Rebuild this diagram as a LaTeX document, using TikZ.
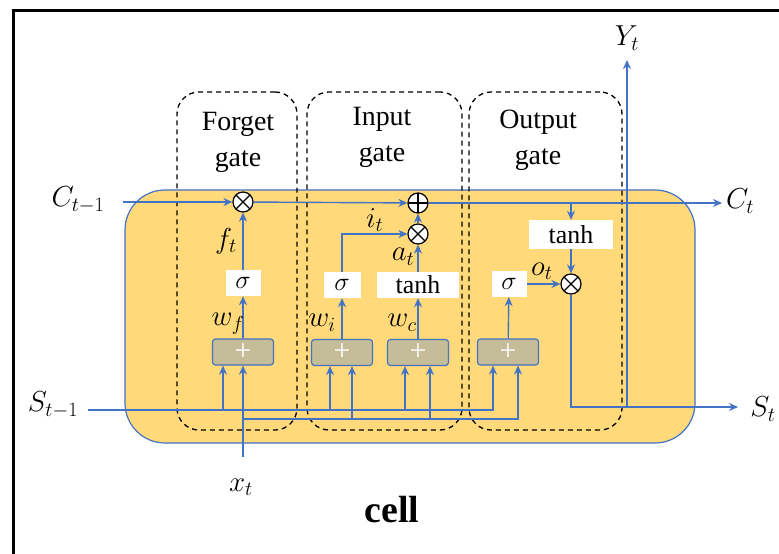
\RequirePackage{fix-cm}
\documentclass[tikz,border=0pt]{standalone}
\usepackage{fontspec}
\setmainfont{Liberation Serif}
\usetikzlibrary{arrows.meta}
\definecolor{lstmyellow}{RGB}{255, 217, 122}
\definecolor{lstmblue}{RGB}{68, 114, 196}
\definecolor{lstmolive}{RGB}{196, 189, 151}

\begin{document}
\begin{tikzpicture}[
    x = 1bp, y = -1bp,
    every node/.style = {inner sep=0pt, font=\fontsize{26}{30}\selectfont},
    cellbox/.style = {draw=lstmblue, fill=lstmyellow, rounded corners=40bp,
                      line width=1.2bp, minimum width=570bp, minimum height=253bp},
    gatebox/.style = {draw=black, dash pattern=on 5bp off 4bp, rounded corners=22bp,
                      line width=1.3bp, minimum height=338bp},
    gatetitle/.style = {align=center, font=\fontsize{28}{36}\selectfont},
    actbox/.style = {fill=white, minimum height=26bp},
    sumbox/.style = {draw=lstmblue, fill=lstmolive, rounded corners=3bp, line width=1.2bp,
                     minimum width=61bp, minimum height=26bp, text=white,
                     font=\fontsize{30}{30}\selectfont},
    mul/.style = {circle, draw, fill=white, line width=1.2bp, minimum size=20bp,
                  path picture={\draw[line width=1.2bp]
                    (path picture bounding box.south west) -- (path picture bounding box.north east)
                    (path picture bounding box.north west) -- (path picture bounding box.south east);}},
    add/.style = {circle, draw, fill=white, line width=1.2bp, minimum size=20bp,
                  path picture={\draw[line width=1.2bp]
                    (path picture bounding box.north) -- (path picture bounding box.south)
                    (path picture bounding box.west) -- (path picture bounding box.east);}},
    lbl/.style = {font=\fontsize{29}{32}\selectfont},
    wire/.style = {draw=lstmblue, line width=1.4bp},
    arrow/.style = {wire, -{Stealth[length=9bp, width=8bp]}}
]
  \useasboundingbox (0,0) rectangle (779,554);
  \draw[line width=3bp] (13,554) -- (13,11) -- (779,11);

  \node[cellbox] (cell) at (410,316.5) {};
  \node[gatebox, minimum width=120bp] (forgetbox) at (237,261) {};
  \node[gatebox, minimum width=155bp] (inputbox)  at (384.5,261) {};
  \node[gatebox, minimum width=153bp] (outputbox) at (545.5,261) {};
  \node[gatetitle] (forgettitle) at (238,142) {Forget\\gate};
  \node[gatetitle] (inputtitle)  at (382,137) {Input\\gate};
  \node[gatetitle] (outputtitle) at (538,140) {Output\\gate};

  % operators
  \node[mul] (mulf) at (243,202) {};
  \node[add] (addc) at (418,203) {};
  \node[mul] (muli) at (418,234) {};
  \node[mul] (mulo) at (571,284) {};

  % activations
  \node[actbox, minimum width=35bp] (sigf)  at (243,283) {$\sigma$};
  \node[actbox, minimum width=37bp] (sigi)  at (342,285) {$\sigma$};
  \node[actbox, minimum width=82bp] (tanhc) at (418,285) {tanh};
  \node[actbox, minimum width=35bp] (sigo)  at (509,284) {$\sigma$};
  \node[actbox, minimum width=84bp, minimum height=29bp] (tanho) at (571,234.5) {tanh};

  % weighted sums
  \node[sumbox] (sumf) at (243,352) {+};
  \node[sumbox] (sumi) at (342,352.5) {+};
  \node[sumbox] (sumc) at (418,352.5) {+};
  \node[sumbox] (sumo) at (508,352) {+};

  % labels
  \node[lbl] (lcprev) at (78,200)  {$C_{t-1}$};
  \node[lbl] (lcnext) at (740,201) {$C_t$};
  \node[lbl] (lsprev) at (53,405)  {$S_{t-1}$};
  \node[lbl] (lsnext) at (763,409) {$S_t$};
  \node[lbl] (lyout)  at (627,38)  {$Y_t$};
  \node[lbl] (lxin)   at (241,487) {$x_t$};
  \node[font=\fontsize{38}{40}\selectfont\bfseries] (lcell) at (392,510) {cell};

  \coordinate (cin)   at (123,202);
  \coordinate (cout)  at (722,203);
  \coordinate (ctap)  at (571,203);
  \coordinate (sout)  at (738,407);
  \coordinate (ybase) at (627,407);
  \coordinate (yout)  at (627,60);
  \coordinate (sin)   at (88,410);
  \coordinate (xin)   at (243,457);
  \coordinate (xjoin) at (243,419);

  % cell state
  \draw[arrow] (cin) -- (mulf);
  \draw[arrow] (mulf) -- (addc);
  \draw[arrow] (addc) -- (cout);

  % inputs to the sums
  \draw[arrow] (sin) -| ([xshift=-15bp]sumo.south);
  \foreach \g/\dx in {sumf/-20, sumi/-12, sumc/-13}
    \draw[arrow] ([xshift=\dx bp]\g.south |- sin) -- ([xshift=\dx bp]\g.south);
  \draw[arrow] (xin) -- (sumf);
  \draw[arrow] (xjoin) -| ([xshift=10bp]sumo.south);
  \foreach \g/\dx in {sumi/10, sumc/12}
    \draw[arrow] ([xshift=\dx bp]\g.south |- xjoin) -- ([xshift=\dx bp]\g.south);

  % gates
  \draw[arrow] (sumf) -- node[lbl, pos=0.35, xshift=-15bp] (lwf) {$w_f$} (sigf);
  \draw[arrow] (sigf) -- node[lbl, pos=0.5, xshift=-17bp] (lft) {$f_t$} (mulf);
  \draw[arrow] (sumi) -- node[lbl, pos=0.4, xshift=-20bp] (lwi) {$w_i$} (sigi);
  \draw[arrow] (sigi) |- node[lbl, pos=0.75, yshift=14bp] (lit) {$i_t$} (muli);
  \draw[arrow] (sumc) -- node[lbl, pos=0.4, xshift=-16bp] (lwc) {$w_c$} (tanhc);
  \draw[arrow] (tanhc) -- node[lbl, pos=0.55, xshift=-15bp] (lat) {$a_t$} (muli);
  \draw[arrow] (muli) -- (addc);
  \draw[arrow] (sumo) -- (sigo);
  \draw[arrow] (sigo) -- node[lbl, pos=0.45, yshift=13bp] (lot) {$o_t$} (mulo);
  \draw[arrow] (ctap) -- (tanho);
  \draw[arrow] (tanho) -- (mulo);

  % outputs
  \draw[arrow] (mulo) |- (sout);
  \draw[arrow] (ybase) -- (yout);
\end{tikzpicture}
\end{document}
